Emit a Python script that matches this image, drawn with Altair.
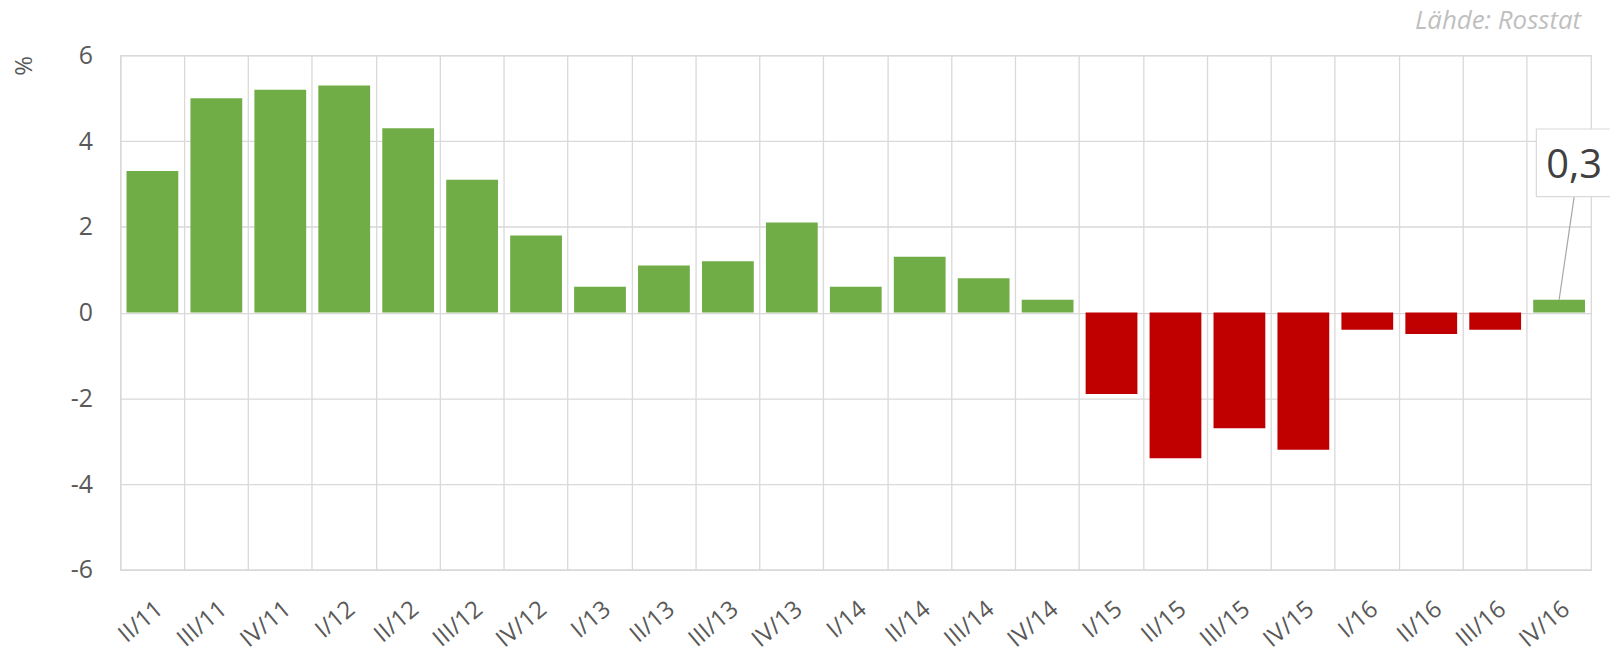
import altair as alt
import pandas as pd

quarters = ["II/11", "III/11", "IV/11", "I/12", "II/12", "III/12", "IV/12",
            "I/13", "II/13", "III/13", "IV/13", "I/14", "II/14", "III/14", "IV/14",
            "I/15", "II/15", "III/15", "IV/15", "I/16", "II/16", "III/16", "IV/16"]
values = [3.3, 5.0, 5.2, 5.3, 4.3, 3.1, 1.8,
          0.6, 1.1, 1.2, 2.1, 0.6, 1.3, 0.8, 0.3,
          -1.9, -3.4, -2.7, -3.2, -0.4, -0.5, -0.4, 0.3]
y_ticks = [-6, -4, -2, 0, 2, 4, 6]
source_text = "Lähde: Rosstat"
y_title = "%"

FONT = "Open Sans"
GRID = "#d9d9d9"
LABEL = "#595959"

df = pd.DataFrame({"q": quarters, "v": values})
last = df.tail(1).copy()
last["label"] = last["v"].map(lambda x: f"{x:.1f}".replace(".", ","))
src = pd.DataFrame({"t": [source_text]})

x_enc = alt.X(
    "q:N", sort=quarters,
    scale=alt.Scale(paddingInner=0, paddingOuter=0),
    axis=alt.Axis(
        title=None, bandPosition=0, grid=True, gridColor=GRID, gridWidth=1.3,
        ticks=False, domain=False, labelAngle=-40, labelAlign="right",
        labelBaseline="top", labelPadding=27, labelFont=FONT,
        labelFontSize=24, labelColor=LABEL, labelOverlap=False, labelBound=False,
    ),
)
y_enc = alt.Y(
    "v:Q",
    scale=alt.Scale(domain=[-6, 6], nice=False, zero=False),
    axis=alt.Axis(
        values=y_ticks, title=y_title, titleAngle=-90, titleX=-96, titleY=10,
        titleAlign="center", titleBaseline="middle", titleFont=FONT,
        titleFontSize=24, titleFontWeight="normal", titleColor=LABEL,
        grid=True, gridColor=GRID, gridWidth=1.3, ticks=False, tickSize=0,
        domain=False, labelPadding=28, labelFont=FONT, labelFontSize=25,
        labelColor=LABEL, labelExpr="'' + datum.value",
    ),
)

bars = alt.Chart(df).mark_bar(width=alt.RelativeBandSize(0.81)).encode(
    x=x_enc,
    y=y_enc,
    color=alt.condition(alt.datum.v >= 0, alt.value("#70ad47"), alt.value("#c00000")),
)

leader = alt.Chart(last).mark_rule(color="#a6a6a6", strokeWidth=1.2).encode(
    x=alt.X("q:N", sort=quarters),
    y=alt.Y("v:Q"),
    x2=alt.value(1461),
    y2=alt.value(142),
)

box = alt.Chart(last).mark_rect(fill="white", stroke=GRID, strokeWidth=1.2).encode(
    x=alt.value(1423), x2=alt.value(1505), y=alt.value(74), y2=alt.value(142)
)

value_label = alt.Chart(last).mark_text(
    font=FONT, fontSize=40, color="#404040", align="center",
    baseline="alphabetic", dx=15, dy=-122,
).encode(x=alt.X("q:N", sort=quarters), y=alt.Y("v:Q"), text="label:N")

source = alt.Chart(src).mark_text(
    font=FONT, fontSize=26, fontStyle="italic", color="#bfbfbf",
    align="right", baseline="alphabetic",
).encode(x=alt.value(1468), y=alt.value(-27), text="t:N")

chart = alt.layer(bars, leader, box, value_label, source).properties(
    width=1478, height=517,
    autosize=alt.AutoSizeParams(type="none"),
    padding={"left": 113, "top": 46, "right": 19, "bottom": 80},
).configure_view(stroke=GRID, strokeWidth=1.3)

chart.save("out.html", embed_options={"renderer": "svg", "actions": False})
